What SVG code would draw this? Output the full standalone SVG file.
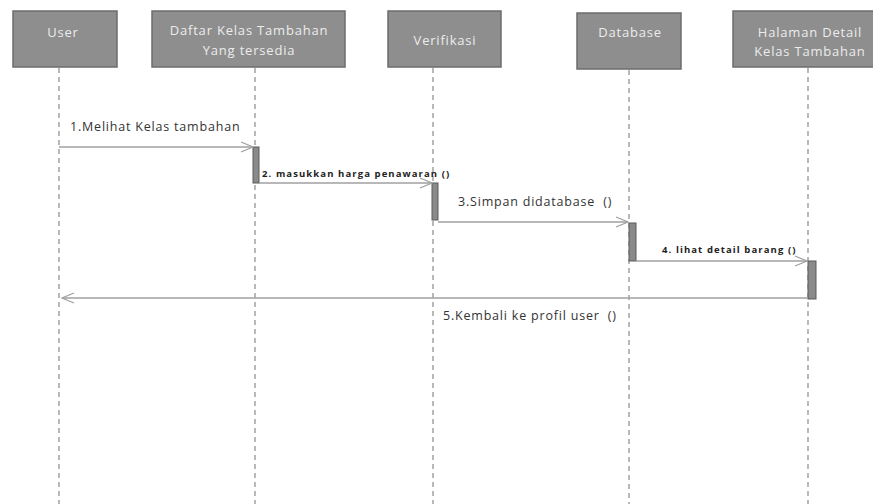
<svg xmlns="http://www.w3.org/2000/svg" width="873" height="504" viewBox="0 0 873 504">
<defs>
<style>
.box{fill:#8e8e8e;stroke:#6c6c6c;stroke-width:1.5}
.bt{font-family:"Open Sans","DejaVu Sans",sans-serif;font-size:13px;letter-spacing:0.8px;fill:#ececec;text-anchor:middle}
.life{stroke:#8a8a8a;stroke-width:1.2;stroke-dasharray:5,4;fill:none}
.act{fill:#8a8a8a;stroke:#5a5a5a;stroke-width:1}
.msg{stroke:#a0a0a0;stroke-width:1.5;fill:none}
.ml{font-family:"Open Sans","DejaVu Sans",sans-serif;font-size:12.5px;letter-spacing:0.8px;fill:#333;white-space:pre}
.ms{font-family:"Open Sans","DejaVu Sans",sans-serif;font-size:9.5px;letter-spacing:1.1px;font-weight:bold;fill:#222}
</style>
<marker id="open" markerWidth="14" markerHeight="12" refX="13" refY="6" orient="auto" markerUnits="userSpaceOnUse">
<path d="M1,1 L13,6 L1,11" fill="none" stroke="#a0a0a0" stroke-width="1.3"/>
</marker>
</defs>
<rect width="873" height="504" fill="#fff"/>
<g id="lifelines">
<line class="life" x1="59" y1="68" x2="59" y2="504"/>
<line class="life" x1="255" y1="68" x2="255" y2="504"/>
<line class="life" x1="433" y1="68" x2="433" y2="504"/>
<line class="life" x1="629" y1="70" x2="629" y2="504"/>
<line class="life" x1="808" y1="68" x2="808" y2="504"/>
</g>
<g id="user"><rect class="box" x="13" y="11" width="104" height="56"/><text class="bt" x="63" y="36.5">User</text></g>
<g id="daftar"><rect class="box" x="152" y="11" width="193" height="56"/><text class="bt" x="249" y="34.5">Daftar Kelas Tambahan</text><text class="bt" x="249" y="54.5">Yang tersedia</text></g>
<g id="verifikasi"><rect class="box" x="388" y="11" width="113" height="56"/><text class="bt" x="445" y="44.5">Verifikasi</text></g>
<g id="database"><rect class="box" x="577" y="13" width="104" height="56"/><text class="bt" x="630" y="36.5">Database</text></g>
<g id="halaman"><rect class="box" x="733" y="11" width="142" height="56"/><text class="bt" x="810" y="36.5">Halaman Detail</text><text class="bt" x="810" y="55.5">Kelas Tambahan</text></g>
<g id="activations">
<rect class="act" x="253" y="147" width="6" height="36"/>
<rect class="act" x="432" y="183" width="6" height="37"/>
<rect class="act" x="629" y="223" width="7" height="38"/>
<rect class="act" x="808" y="261" width="8" height="38"/>
</g>
<g id="connectors">
<line class="msg" x1="59" y1="147" x2="253" y2="147" marker-end="url(#open)"/>
<line class="msg" x1="259" y1="183" x2="432" y2="183" marker-end="url(#open)"/>
<line class="msg" x1="438" y1="222" x2="628" y2="222" marker-end="url(#open)"/>
<line class="msg" x1="636" y1="261" x2="807" y2="261" marker-end="url(#open)"/>
<line class="msg" x1="808" y1="298" x2="62" y2="298" marker-end="url(#open)"/>
</g>
<g id="labels">
<text class="ml" x="70" y="131">1.Melihat Kelas tambahan</text>
<text class="ms" x="262" y="177">2. masukkan harga penawaran ()</text>
<text class="ml" x="458" y="206" xml:space="preserve">3.Simpan didatabase  ()</text>
<text class="ms" x="662" y="253">4. lihat detail barang ()</text>
<text class="ml" x="443" y="320" xml:space="preserve">5.Kembali ke profil user  ()</text>
</g>
</svg>
